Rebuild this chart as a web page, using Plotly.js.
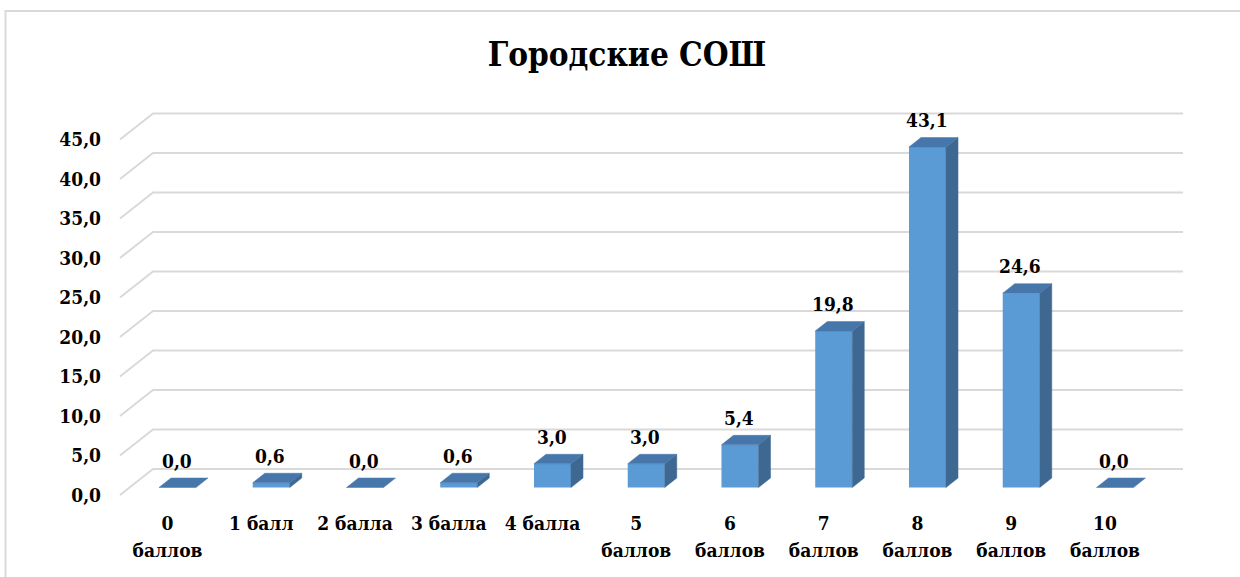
<!DOCTYPE html>
<html>
<head>
<meta charset="utf-8">
<script src="https://cdn.plot.ly/plotly-3.0.1.min.js"></script>
<style>html,body{margin:0;padding:0;background:#fff;}#chart{width:1240px;height:577px;}</style>
</head>
<body>
<div id="chart"></div>
<script>
// ---- data ----
const categories = ["0<br>баллов", "1 балл", "2 балла", "3 балла", "4 балла", "5<br>баллов", "6<br>баллов", "7<br>баллов", "8<br>баллов", "9<br>баллов", "10<br>баллов"];
const values = [0.0, 0.6, 0.0, 0.6, 3.0, 3.0, 5.4, 19.8, 43.1, 24.6, 0.0];
const yTicks = [0, 5, 10, 15, 20, 25, 30, 35, 40, 45];
const chartTitle = "Городские СОШ";

// ---- geometry (pixel layout of the pseudo-3D chart) ----
const W = 1240, H = 577;
const FONT = 'DejaVu Serif Condensed, DejaVu Serif';
const slotPx = 93.75, firstCenterPx = 177.5;   // category spacing
const unitPx = 7.9, baseFrontPx = 487.5;        // value scale, bar base
const barW = 0.395;
const depthDxPx = 12, depthDyPx = 9.5;          // bar depth
const wallFront0 = 495, wallBack0 = 469, wallLeftFront = 120, wallLeftBack = 153, wallRight = 1183;

const xr = [-firstCenterPx / slotPx, (W - firstCenterPx) / slotPx];
const yr = [(baseFrontPx - H) / unitPx, baseFrontPx / unitPx];
const X = px => (px - firstCenterPx) / slotPx;
const Y = py => (baseFrontPx - py) / unitPx;
const ddx = depthDxPx / slotPx, ddy = depthDyPx / unitPx;

const idx = categories.map((c, i) => i);
const line1 = categories.map(c => c.split('<br>')[0]);
const line2 = categories.map(c => c.split('<br>')[1] || '');

// side and top faces
const sideX = [], sideY = [], topX = [], topY = [];
idx.forEach(i => {
  const v = values[i], r = i + barW / 2, l = i - barW / 2;
  if (v > 0) {
    sideX.push(r, r + ddx, r + ddx, r, r, null);
    sideY.push(0, ddy, v + ddy, v, 0, null);
  }
  topX.push(l, r, r + ddx, l + ddx, l, null);
  topY.push(v, v, v + ddy, v + ddy, v, null);
});

const traces = [
  {type: 'bar', x: idx, y: values, width: barW, marker: {color: '#5B9BD5', line: {width: 0}},
   hoverinfo: 'skip', xaxis: 'x', yaxis: 'y'},
  {type: 'scatter', mode: 'lines', x: sideX, y: sideY, fill: 'toself', fillcolor: '#3E6891',
   line: {width: 0.5, color: '#3E6891'}, hoverinfo: 'skip', xaxis: 'x', yaxis: 'y'},
  {type: 'scatter', mode: 'lines', x: topX, y: topY, fill: 'toself', fillcolor: '#4777AA',
   line: {width: 0.5, color: '#4777AA'}, hoverinfo: 'skip', xaxis: 'x', yaxis: 'y'},
  {type: 'scatter', mode: 'markers', x: [0], y: [0], marker: {opacity: 0}, hoverinfo: 'skip', xaxis: 'x', yaxis: 'y2'},
  {type: 'scatter', mode: 'markers', x: [0], y: [0], marker: {opacity: 0}, hoverinfo: 'skip', xaxis: 'x2', yaxis: 'y'},
  {type: 'scatter', mode: 'markers', x: [0], y: [0], marker: {opacity: 0}, hoverinfo: 'skip', xaxis: 'x3', yaxis: 'y'}
];

const shapes = [];
yTicks.forEach(v => {
  const f = wallFront0 - unitPx * v, b = wallBack0 - unitPx * v;
  shapes.push({type: 'path', layer: 'below', xref: 'x', yref: 'y',
    path: `M ${X(wallLeftFront)},${Y(f)} L ${X(wallLeftBack)},${Y(b)} L ${X(wallRight)},${Y(b)}`,
    line: {color: '#D9D9D9', width: 2}});
});
shapes.push({type: 'rect', xref: 'paper', yref: 'paper', x0: 5.5 / W, x1: 1.05, y0: -0.05, y1: 1 - 11 / H,
  line: {color: '#D9D9D9', width: 2}, fillcolor: 'rgba(0,0,0,0)', layer: 'below'});

const annotations = idx.map(i => ({
  x: i, y: values[i], xref: 'x', yref: 'y', showarrow: false, yanchor: 'middle', yshift: 27, xshift: -1,
  text: values[i].toFixed(1).replace('.', ','),
  font: {family: FONT, size: 19, color: '#000', weight: 'bold'}
}));

const labelShift = 10 / slotPx;
const catAxis = (pos, text) => ({overlaying: 'x', anchor: 'free', position: 1 - pos / H, side: 'bottom',
  range: [xr[0] + labelShift, xr[1] + labelShift],
  tickmode: 'array', tickvals: idx, ticktext: text, ticks: '', showgrid: false, zeroline: false, showline: false,
  tickfont: {family: FONT, size: 19, color: '#000', weight: 'bold'}});

const layout = {
  width: W, height: H,
  margin: {l: 0, r: 0, t: 0, b: 0, pad: 0},
  paper_bgcolor: '#fff', plot_bgcolor: 'rgba(0,0,0,0)',
  showlegend: false,
  separators: ', ',
  title: {text: chartTitle, x: 627 / W, xref: 'container', xanchor: 'center', y: 1 - 54 / H, yref: 'container', yanchor: 'middle',
    font: {family: FONT, size: 33, color: '#000', weight: 'bold'}},
  xaxis: {range: xr, showgrid: false, zeroline: false, showticklabels: false, showline: false, fixedrange: true},
  yaxis: {range: yr, showgrid: false, zeroline: false, showticklabels: false, showline: false, fixedrange: true},
  yaxis2: {overlaying: 'y', anchor: 'free', position: 101 / W, side: 'left',
    range: [(wallFront0 - H) / unitPx, wallFront0 / unitPx],
    tickmode: 'array', tickvals: yTicks, tickformat: '.1f', ticks: '', showgrid: false, zeroline: false, showline: false,
    tickfont: {family: FONT, size: 19, color: '#000', weight: 'bold'}},
  xaxis2: catAxis(510, line1),
  xaxis3: catAxis(537, line2),
  shapes: shapes,
  annotations: annotations
};

Plotly.newPlot('chart', traces, layout, {displayModeBar: false, staticPlot: true});
</script>
</body>
</html>
